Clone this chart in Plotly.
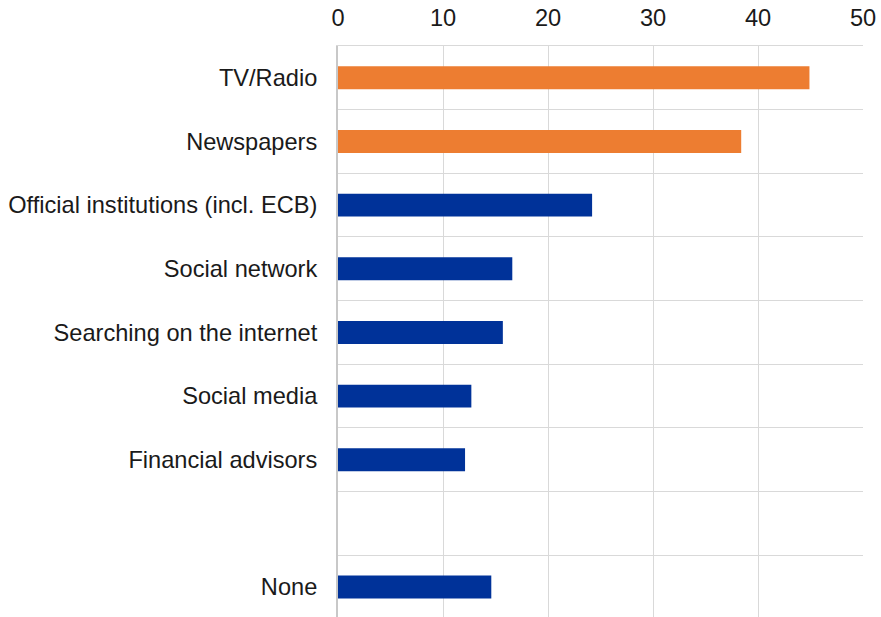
import plotly.graph_objects as go

# Information sources and share of respondents (%)
categories = [
    "TV/Radio",
    "Newspapers",
    "Official institutions (incl. ECB)",
    "Social network",
    "Searching on the internet",
    "Social media",
    "Financial advisors",
    " ",
    "None",
]
values = [44.9, 38.4, 24.2, 16.6, 15.7, 12.7, 12.1, None, 14.6]
bar_colors = ["#ED7D31", "#ED7D31", "#003299", "#003299", "#003299",
              "#003299", "#003299", "#003299", "#003299"]
x_ticks = [0, 10, 20, 30, 40, 50]

fig = go.Figure(
    go.Bar(
        x=values,
        y=categories,
        orientation="h",
        width=0.36,
        marker=dict(color=bar_colors, line=dict(width=0)),
        hoverinfo="x+y",
    )
)

fig.update_layout(
    width=881,
    height=617,
    margin=dict(l=338, r=18, t=46, b=0),
    paper_bgcolor="white",
    plot_bgcolor="white",
    showlegend=False,
    font=dict(family="Liberation Sans, Arial, sans-serif", size=23.6, color="#1a1a1a"),
    xaxis=dict(
        side="top",
        range=[0, 50],
        tickvals=x_ticks,
        showgrid=True,
        gridcolor="#d9d9d9",
        gridwidth=1,
        zeroline=False,
        showline=True,
        linecolor="#d9d9d9",
        linewidth=1,
        ticks="",
        ticklabelstandoff=10,
        tickfont=dict(size=23.6),
    ),
    yaxis=dict(
        type="category",
        categoryorder="array",
        categoryarray=categories,
        range=[8.47, -0.5],
        tickson="boundaries",
        showgrid=True,
        gridcolor="#d9d9d9",
        gridwidth=1,
        ticks="",
        showline=True,
        linecolor="#c8c8c8",
        linewidth=2,
        ticklabelstandoff=14,
        tickfont=dict(size=23.6),
    ),
)

fig.write_html("out.html")
